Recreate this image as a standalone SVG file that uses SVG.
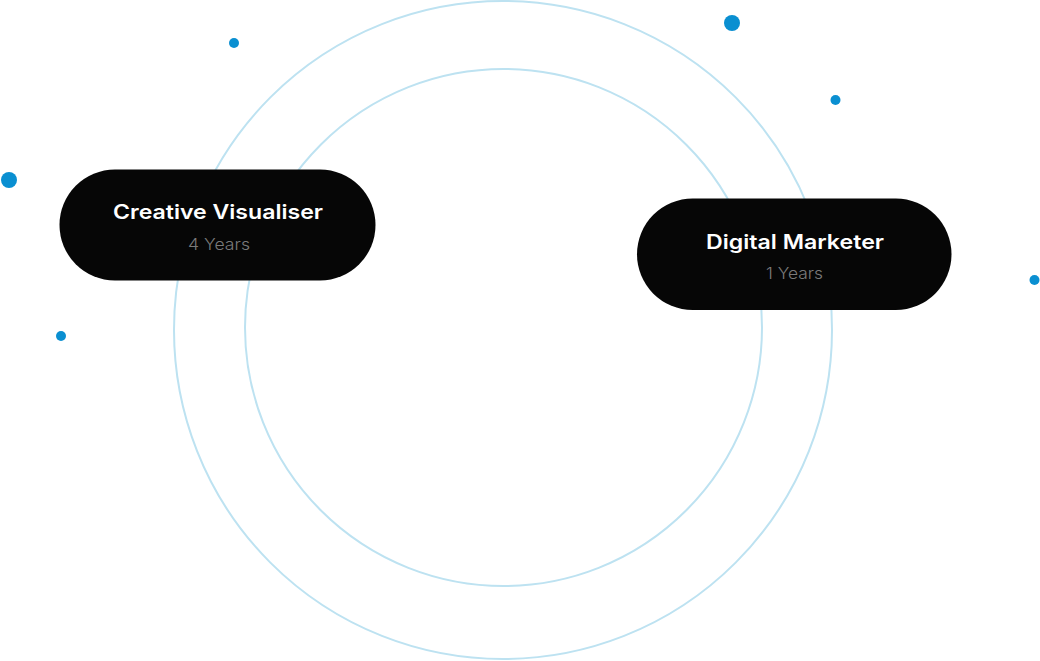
<svg xmlns="http://www.w3.org/2000/svg" width="1040" height="661" viewBox="0 0 1040 661">
<style>
.ring{fill:none;stroke:#bde2f1;stroke-width:2}
.dot{fill:#0a8fd1}
.pill{fill:#060606}
.title{font-family:Inter,"Noto Sans",sans-serif;font-weight:600;font-size:20px;fill:#ffffff;text-anchor:middle}
.sub{font-family:Inter,"Noto Sans",sans-serif;font-weight:300;font-size:16px;fill:#7a7a7a;text-anchor:middle}
</style>
<rect width="1040" height="661" fill="#ffffff"/>
<g id="rings">
<circle class="ring" cx="503" cy="330" r="329"/>
<circle class="ring" cx="503.5" cy="327.5" r="258.5"/>
</g>
<g id="dots">
<circle class="dot" cx="234" cy="43" r="5"/>
<circle class="dot" cx="9" cy="180" r="8"/>
<circle class="dot" cx="732" cy="23" r="8"/>
<circle class="dot" cx="835.5" cy="100" r="5"/>
<circle class="dot" cx="1034.5" cy="280" r="5"/>
<circle class="dot" cx="61" cy="336" r="5"/>
</g>
<g id="connectors"></g>
<g id="node-creative">
<rect class="pill" x="59.5" y="169.5" width="316" height="111" rx="55.5"/>
<text class="title" x="218" y="219" textLength="210" lengthAdjust="spacingAndGlyphs">Creative Visualiser</text>
<text class="sub" x="219" y="249.5" textLength="62" lengthAdjust="spacingAndGlyphs">4 Years</text>
</g>
<g id="node-digital">
<rect class="pill" x="637" y="198.5" width="314.5" height="111.5" rx="55.75"/>
<text class="title" x="795" y="248.5" textLength="178" lengthAdjust="spacingAndGlyphs">Digital Marketer</text>
<text class="sub" x="794.5" y="279" textLength="57" lengthAdjust="spacingAndGlyphs">1 Years</text>
</g>
</svg>
